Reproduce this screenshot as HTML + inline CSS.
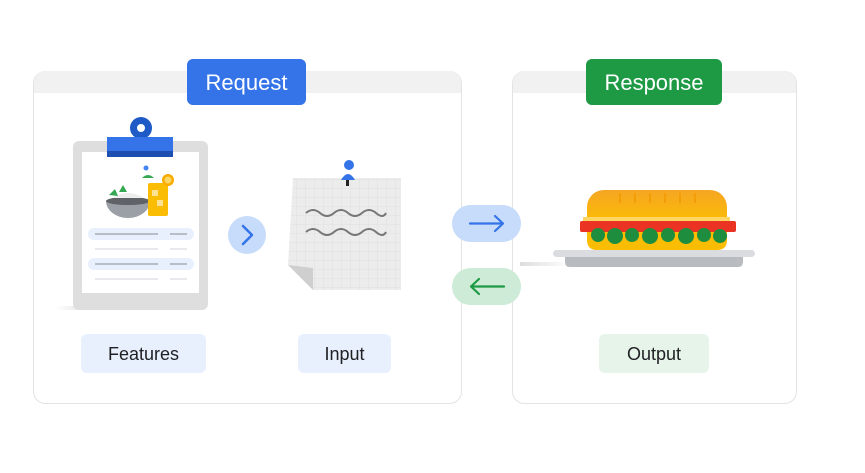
<!DOCTYPE html>
<html><head><meta charset="utf-8"><style>
body{margin:0;background:#fff;width:865px;height:468px;overflow:hidden;font-family:"Liberation Sans",sans-serif}
</style></head><body>
<svg width="865" height="468" viewBox="0 0 865 468" xmlns="http://www.w3.org/2000/svg">
<defs>
<pattern id="grid" width="9" height="9" patternUnits="userSpaceOnUse"><path d="M9 0V9H0" fill="none" stroke="#dcdcdc" stroke-width="0.7"/></pattern>
<linearGradient id="sh" x1="0" x2="1"><stop offset="0" stop-color="#fff"/><stop offset="1" stop-color="#ddd"/></linearGradient>
<linearGradient id="bun" x1="0" y1="0" x2="0" y2="1"><stop offset="0" stop-color="#f5a623"/><stop offset="1" stop-color="#fbbc04"/></linearGradient>
</defs>
<rect x="33.5" y="71.5" width="428" height="332" rx="12" fill="#fff" stroke="#e3e3e3"/>
<path d="M34 93V83a12 12 0 0 1 12-12h403a12 12 0 0 1 12 12v10z" fill="#f1f1f1"/>
<rect x="187" y="59" width="119" height="46" rx="6" fill="#3474e8"/>
<text x="246.5" y="90" font-size="22" fill="#fff" text-anchor="middle">Request</text>
<rect x="512.5" y="71.5" width="284" height="332" rx="12" fill="#fff" stroke="#e3e3e3"/>
<path d="M513 93V83a12 12 0 0 1 12-12h259a12 12 0 0 1 12 12v10z" fill="#f1f1f1"/>
<rect x="586" y="59" width="136" height="46" rx="6" fill="#1e9a45"/>
<text x="654" y="90" font-size="22" fill="#fff" text-anchor="middle">Response</text>
<rect x="55" y="306" width="40" height="4" fill="url(#sh)"/>
<rect x="73" y="141" width="135" height="169" rx="6" fill="#dedede"/>
<rect x="82" y="152" width="117" height="141" fill="#fff"/>
<circle cx="141" cy="128" r="11" fill="#1e5bc6"/><circle cx="141" cy="128" r="4" fill="#fff"/>
<rect x="107" y="137" width="66" height="20" fill="#3474e8"/><rect x="107" y="151" width="66" height="6" fill="#1e4fb0"/>
<path d="M106 201h44a22 17 0 0 1-44 0z" fill="#9aa0a6"/>
<ellipse cx="128" cy="201" rx="22" ry="4" fill="#5f6368"/>
<path d="M112 198q16-10 32 0z" fill="#eee"/>
<path d="M109 195l6-6 3 7zM119 192l4-7 4 7z" fill="#34a853"/>
<rect x="148" y="183" width="20" height="33" rx="2" fill="#fbbc04"/>
<rect x="152" y="190" width="6" height="6" fill="#fde293"/><rect x="157" y="200" width="6" height="6" fill="#fde293"/>
<circle cx="168" cy="180" r="6" fill="#f9ab00"/><circle cx="168" cy="180" r="3.5" fill="#fdd663"/>
<path d="M142 178q6-6 12 0z" fill="#34a853"/>
<circle cx="146" cy="168" r="2.5" fill="#4285f4"/>
<rect x="88" y="228" width="106" height="12" rx="6" fill="#e8f0fe"/>
<rect x="88" y="258" width="106" height="12" rx="6" fill="#e8f0fe"/>
<g stroke="#9aa0a6" stroke-width="1.2"><path d="M95 234h63M170 234h17M95 264h63M170 264h17"/></g>
<g stroke="#dadce0" stroke-width="1.2"><path d="M95 249h63M170 249h17M95 279h63M170 279h17"/></g>
<circle cx="247" cy="235" r="19" fill="#c7dbfb"/>
<path d="M243 226l9 9-9 9" fill="none" stroke="#3474e8" stroke-width="2.5" stroke-linecap="round" stroke-linejoin="round"/>
<path d="M293 178h108v112h-88l-25-25z" fill="#ececec"/>
<path d="M293 178h108v112h-88l-25-25z" fill="url(#grid)"/>
<path d="M288 265l25 25v-22z" fill="#cfcfcf"/>
<rect x="346" y="176" width="3" height="10" fill="#222"/>
<circle cx="349" cy="165" r="5" fill="#3474e8"/><path d="M341 180q7-12 14 0z" fill="#3474e8"/>
<g fill="none" stroke="#777" stroke-width="2"><path d="M306 213q7-6 14 0t14 0 14 0 14 0 14 0 10 0"/><path d="M306 232q7-6 14 0t14 0 14 0 14 0 14 0 10 0"/></g>
<rect x="81" y="334" width="125" height="39" rx="6" fill="#e8f0fe"/>
<text x="143.5" y="360" font-size="18" fill="#202124" text-anchor="middle">Features</text>
<rect x="298" y="334" width="93" height="39" rx="6" fill="#e8f0fe"/>
<text x="344.5" y="360" font-size="18" fill="#202124" text-anchor="middle">Input</text>
<rect x="599" y="334" width="110" height="39" rx="6" fill="#e6f4ea"/>
<text x="654" y="360" font-size="18" fill="#202124" text-anchor="middle">Output</text>
<rect x="452" y="205" width="69" height="37" rx="18.5" fill="#c7dbfb"/>
<path d="M470 223.5h33M495 216l8 7.5-8 7.5" fill="none" stroke="#3474e8" stroke-width="2.2" stroke-linecap="round" stroke-linejoin="round"/>
<rect x="452" y="268" width="69" height="37" rx="18.5" fill="#cdebd6"/>
<path d="M504 286.5h-33M479 279l-8 7.5 8 7.5" fill="none" stroke="#1e9a45" stroke-width="2.2" stroke-linecap="round" stroke-linejoin="round"/>
<rect x="520" y="262" width="50" height="4" fill="url(#sh)" transform="scale(-1 1) translate(-1090 0)"/>
<path d="M587 222v-15a17 17 0 0 1 17-17h106a17 17 0 0 1 17 17v15z" fill="url(#bun)"/>
<g stroke="#f29900" stroke-width="1.5"><path d="M620 193v10M635 193v10M650 193v10M665 193v10M680 193v10M695 193v10"/></g>
<path d="M583 217h147v5h-147z" fill="#fdd663"/>
<rect x="580" y="221" width="156" height="11" rx="2" fill="#ea3323"/>
<path d="M587 232h140v8q0 10-10 10h-120q-10 0-10-10z" fill="#fbbc04"/>
<g fill="#1e8e3e"><circle cx="598" cy="235" r="7"/><circle cx="615" cy="236" r="8"/><circle cx="632" cy="235" r="7"/><circle cx="650" cy="236" r="8"/><circle cx="668" cy="235" r="7"/><circle cx="686" cy="236" r="8"/><circle cx="704" cy="235" r="7"/><circle cx="720" cy="236" r="7"/></g>
<rect x="553" y="250" width="202" height="7" rx="3.5" fill="#dadce0"/>
<path d="M565 257h178v5q0 5-5 5h-168q-5 0-5-5z" fill="#b8bbc0"/>
</svg>
</body></html>
